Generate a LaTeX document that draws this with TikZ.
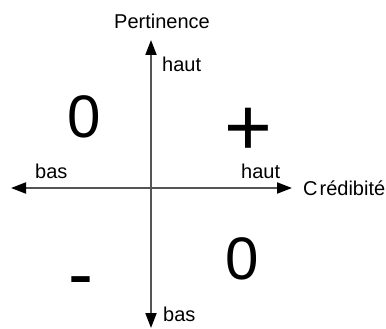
\documentclass[tikz,border=0pt]{standalone}
\usepackage{fontspec}
\setmainfont{Liberation Sans}
\usetikzlibrary{arrows.meta}
\definecolor{axisgray}{RGB}{85,85,85}
\begin{document}
\begin{tikzpicture}[x=1pt,y=-1pt,
  axisline/.style={draw=axisgray, line width=2pt,
    {Triangle[length=15pt,width=11pt,color=black]}-{Triangle[length=15pt,width=11pt,color=black]}},
  lbl/.style={inner sep=0pt, anchor=base west, font=\fontsize{20}{20}\selectfont},
  bigsign/.style={inner sep=0pt, anchor=base}]
\useasboundingbox (0,0) rectangle (386,329);
\coordinate (vtop) at (151,40);
\coordinate (vbot) at (151,328);
\coordinate (hleft) at (11,188);
\coordinate (hright) at (292,188);
\draw[axisline] (vbot) -- (vtop);
\draw[axisline] (hleft) -- (hright);
\node[lbl] (pert) at (114,29) {Pertinence};
\node[lbl] (hauttop) at (162,72) {haut};
\node[lbl] (basleft) at (35,178) {bas};
\node[lbl] (hautright) at (241,178) {haut};
\node[lbl] (cred) at (303,195) {C\kern2pt r\'edibit\'e};
\node[lbl] (basbot) at (163,321) {bas};
\node[bigsign, font=\fontsize{60}{60}\selectfont] (zerotl) at (84,137) {0};
\node[bigsign, font=\fontsize{82}{82}\selectfont] (plus) at (248,155) {+};
\node[bigsign, font=\fontsize{75}{75}\selectfont] (minus) at (81,299) {-};
\node[bigsign, font=\fontsize{60}{60}\selectfont] (zerobr) at (242,279) {0};
\end{tikzpicture}
\end{document}
